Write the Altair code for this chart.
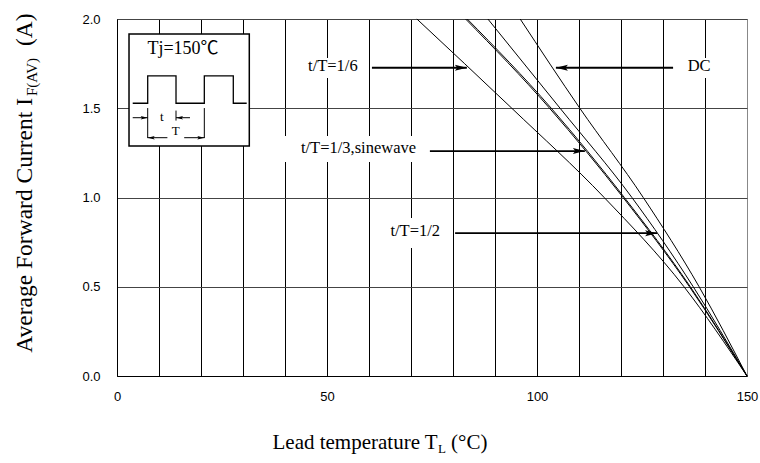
import altair as alt
import pandas as pd

# ---------------- data ----------------
current_levels = [2.0, 1.5, 1.0, 0.5, 0.0]          # A
temp_t16 = [71.4, 94.0, 116.0, 135.0, 150.0]       # t/T=1/6
temp_t13 = [83.0, 103.0, 120.5, 136.3, 150.0]      # t/T=1/3
temp_sine = [83.4, 103.4, 120.8, 136.5, 150.0]     # sinewave
temp_t12 = [88.3, 105.5, 122.6, 137.2, 150.0]      # t/T=1/2
temp_dc = [96.0, 110.2, 125.3, 138.6, 150.0]       # DC

x_ticks = list(range(0, 151, 10))
y_ticks = [0.0, 0.5, 1.0, 1.5, 2.0]

# annotation labels with arrows
ann_text = ["t/T=1/6", "t/T=1/3,sinewave", "t/T=1/2", "DC"]
ann_text_T = [51.4, 57.5, 71.0, 138.6]
ann_text_I = [1.735, 1.277, 0.812, 1.735]
ann_box_T1 = [44.3, 38.8, 63.8, 134.8]
ann_box_T2 = [58.1, 72.6, 78.6, 142.4]
ann_box_I1 = [1.670, 1.199, 0.717, 1.670]
ann_box_I2 = [1.782, 1.345, 0.885, 1.782]
arrow_start_T = [60.7, 74.5, 80.5, 132.4]
arrow_tip_T = [83.3, 111.4, 128.6, 104.5]
arrow_I = [1.727, 1.26, 0.80, 1.727]
arrow_dir = ["right", "right", "right", "left"]

# inset (pulse waveform diagram)
inset_T = [2.86, 31.5]
inset_I = [1.289, 1.916]
wave_T = [3.74, 7.31, 7.31, 14.05, 14.05, 20.79, 20.79, 27.69, 27.69, 30.88]
wave_I = [1.528, 1.528, 1.681, 1.681, 1.528, 1.528, 1.681, 1.681, 1.528, 1.528]
mark_T = [7.31, 20.79, 14.05]
mark_I1 = [1.501, 1.501, 1.487]
mark_I2 = [1.333, 1.333, 1.431]
ins_arrow_T1 = [3.74, 17.38, 12.0, 16.0]
ins_arrow_T2 = [7.31, 14.05, 7.31, 20.79]
ins_arrow_I = [1.447, 1.447, 1.335, 1.335]
ins_arrow_dir = ["right", "left", "left", "right"]
inset_text = ["Tj=150\u2103", "t", "T"]
inset_text_T = [15.71, 10.64, 13.98]
inset_text_I = [1.832, 1.449, 1.375]
inset_text_size = [18, 13, 13]

# ---------------- tables ----------------
series = [("t/T=1/6", temp_t16), ("t/T=1/3", temp_t13), ("sinewave", temp_sine),
          ("t/T=1/2", temp_t12), ("DC", temp_dc)]
rows = []
for name, temps in series:
    for k, (t, i) in enumerate(zip(temps, current_levels)):
        rows.append({"series": name, "T": t, "I": i, "o": k})
curves = pd.DataFrame(rows)

ann = pd.DataFrame({"text": ann_text, "T": ann_text_T, "I": ann_text_I,
                    "T1": ann_box_T1, "T2": ann_box_T2, "I1": ann_box_I1, "I2": ann_box_I2})
arrows = pd.DataFrame({"T1": arrow_start_T, "T2": arrow_tip_T, "I": arrow_I, "dir": arrow_dir})
inset = pd.DataFrame({"T1": [inset_T[0]], "T2": [inset_T[1]], "I1": [inset_I[0]], "I2": [inset_I[1]]})
wave = pd.DataFrame({"T": wave_T, "I": wave_I, "o": list(range(len(wave_T)))})
marks = pd.DataFrame({"T": mark_T, "I1": mark_I1, "I2": mark_I2})
ins_arrows = pd.DataFrame({"T1": ins_arrow_T1, "T2": ins_arrow_T2, "I": ins_arrow_I, "dir": ins_arrow_dir})
ins_text = pd.DataFrame({"text": inset_text, "T": inset_text_T, "I": inset_text_I, "size": inset_text_size})

# ---------------- scales / axes ----------------
xscale = alt.Scale(domain=[0, 150], nice=False, zero=False)
yscale = alt.Scale(domain=[0, 2], nice=False)
xaxis = alt.Axis(values=x_ticks, title=None, ticks=False, grid=True,
                 gridColor={"condition": {"test": "datum.value >= 150", "value": "#888888"}, "value": "black"},
                 gridWidth=1, labelExpr="datum.value % 50 == 0 ? datum.label : ''",
                 labelFlush=False, labelOverlap=False, labelPadding=14,
                 domainColor="black", domainWidth=1)
yaxis = alt.Axis(values=y_ticks, title=None, ticks=False, grid=True, gridColor="#444444",
                 gridWidth=1, format=".1f", labelPadding=17, labelFlush=False,
                 labelOverlap=False, domainColor="black", domainWidth=1)


def X(f):
    return alt.X(f, type="quantitative", scale=xscale, axis=xaxis)


def Y(f):
    return alt.Y(f, type="quantitative", scale=yscale, axis=yaxis)


SERIF = "Liberation Serif, Times New Roman, Noto Sans CJK JP"
head_r = "M0,0 L-1,-0.25 L-0.8,0 L-1,0.25 Z"
head_l = "M0,0 L1,-0.25 L0.8,0 L1,0.25 Z"
shape_enc = alt.Shape("dir:N", scale=alt.Scale(domain=["right", "left"], range=[head_r, head_l]), legend=None)

boxes = alt.Chart(ann).mark_rect(fill="white", stroke="white", strokeWidth=0).encode(
    x=X("T1"), x2="T2", y=Y("I1"), y2="I2")

inset_box = alt.Chart(inset).mark_rect(fill="white", stroke="black", strokeWidth=1.5).encode(
    x=X("T1"), x2="T2", y=Y("I1"), y2="I2")

lines = alt.Chart(curves).mark_line(color="black", strokeWidth=1, interpolate="monotone").encode(
    x=X("T"), y=Y("I"), detail="series:N", order="o:Q")

arrow_shaft = alt.Chart(arrows).mark_rule(color="black", strokeWidth=1.8).encode(
    x=X("T1"), x2="T2", y=Y("I"))
arrow_head = alt.Chart(arrows).mark_point(filled=True, color="black", size=576, opacity=1, strokeWidth=0).encode(
    x=X("T2"), y=Y("I"), shape=shape_enc)

ann_labels = alt.Chart(ann).mark_text(font=SERIF, fontSize=16.5, color="black",
                                       align="center", baseline="middle").encode(
    x=X("T"), y=Y("I"), text="text:N")

wave_line = alt.Chart(wave).mark_line(color="black", strokeWidth=1.3).encode(
    x=X("T"), y=Y("I"), order="o:Q")
mark_rules = alt.Chart(marks).mark_rule(color="black", strokeWidth=1).encode(
    x=X("T"), y=Y("I1"), y2="I2")
ins_shaft = alt.Chart(ins_arrows).mark_rule(color="black", strokeWidth=1).encode(
    x=X("T1"), x2="T2", y=Y("I"))
ins_head = alt.Chart(ins_arrows).mark_point(filled=True, color="black", size=196, opacity=1, strokeWidth=0).encode(
    x=X("T2"), y=Y("I"), shape=alt.Shape("dir:N", scale=alt.Scale(domain=["right", "left"],
                                                                     range=["M0,0 L-1,-0.35 L-0.8,0 L-1,0.35 Z",
                                                                            "M0,0 L1,-0.35 L0.8,0 L1,0.35 Z"]),
                                          legend=None))
ins_labels = alt.Chart(ins_text).mark_text(font=SERIF, color="black", align="center", baseline="middle").encode(
    x=X("T"), y=Y("I"), text="text:N", size=alt.Size("size:Q", scale=None, legend=None))

one = pd.DataFrame({"k": [0]})


def txt(s, x, y, size, angle=0, align="left", baseline="middle"):
    kw = dict(font=SERIF, fontSize=size, color="black", align=align, baseline=baseline)
    if angle:
        kw["angle"] = angle
    return alt.Chart(one).mark_text(**kw).encode(x=alt.value(x), y=alt.value(y), text=alt.value(s))


titles = [
    txt("Average Forward Current I", -92, 79, 23.5, angle=270, align="right"),
    txt("F(AV)", -85, 77, 15, angle=270),
    txt("(A)", -92, 27, 23.5, angle=270),
    txt("Lead temperature T", 155.5, 430, 21, baseline="alphabetic"),
    txt("L", 321, 434, 13, baseline="alphabetic"),
    txt("(\u00b0C)", 334, 430, 21, baseline="alphabetic"),
]

chart = alt.layer(
    boxes, lines, arrow_shaft, arrow_head, ann_labels,
    inset_box, wave_line, mark_rules, ins_shaft, ins_head, ins_labels,
    *titles
).properties(
    width=630, height=357,
    autosize=alt.AutoSizeParams(type="none"),
    padding={"left": 117, "top": 19, "right": 13, "bottom": 87},
    background="white",
).configure_view(
    stroke="#888888", strokeWidth=1
).configure_axis(
    labelFont="Liberation Sans", labelFontSize=13, labelColor="black"
)

chart.save("out.html", embed_options={"renderer": "svg", "actions": False})
